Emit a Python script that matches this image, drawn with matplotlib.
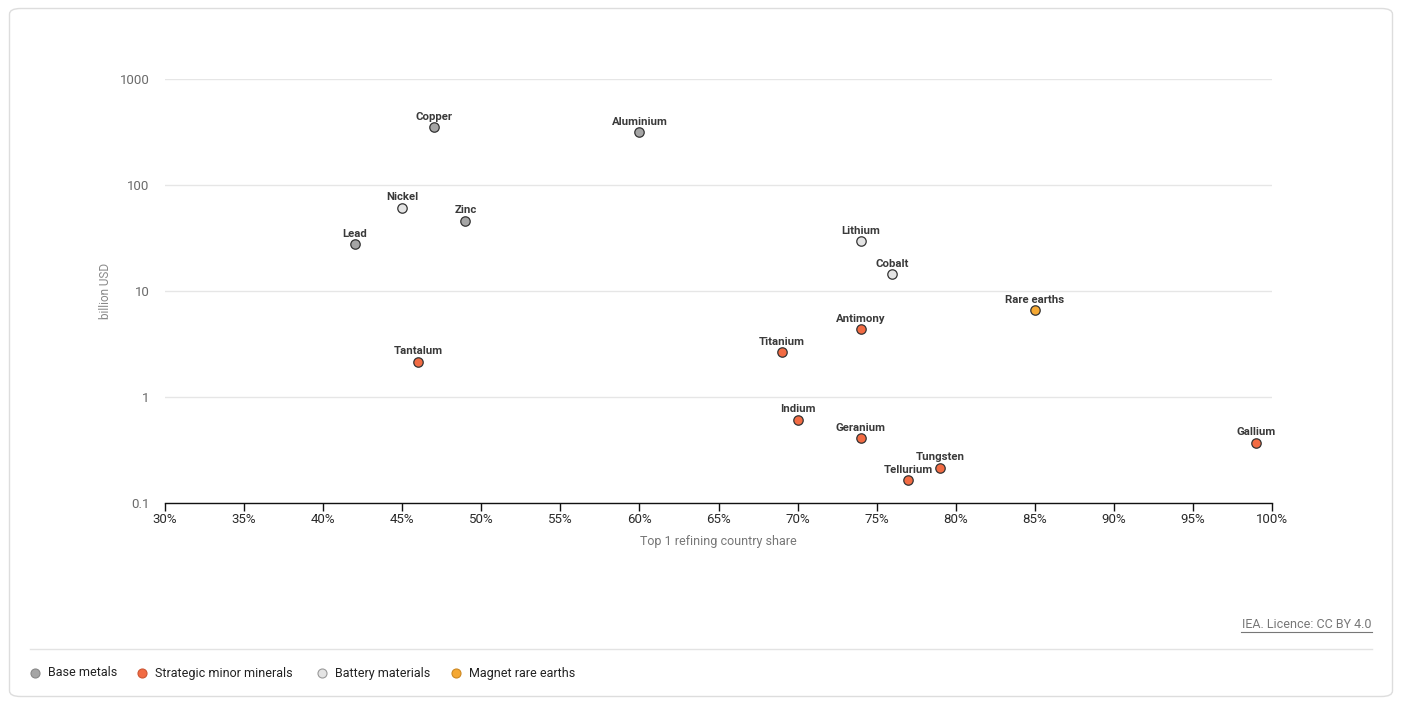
import matplotlib
matplotlib.use("Agg")
import matplotlib.pyplot as plt
from matplotlib.patches import FancyBboxPatch
from matplotlib.lines import Line2D
from matplotlib.ticker import FixedLocator, FuncFormatter, NullLocator

plt.rcParams['font.family'] = ['Roboto', 'DejaVu Sans']

# ---- data ----
minerals = ["Copper", "Aluminium", "Nickel", "Zinc", "Lead", "Tantalum",
            "Lithium", "Cobalt", "Rare earths", "Antimony", "Titanium",
            "Indium", "Geranium", "Gallium", "Tungsten", "Tellurium"]
share = [47, 60, 45, 49, 42, 46, 74, 76, 85, 74, 69, 70, 74, 99, 79, 77]
value = [350, 315, 61, 46, 27.5, 2.15, 29.5, 14.5, 6.6, 4.35, 2.65,
         0.61, 0.41, 0.37, 0.215, 0.165]
group = ["Base metals", "Base metals", "Battery materials", "Base metals",
         "Base metals", "Strategic minor minerals", "Battery materials",
         "Battery materials", "Magnet rare earths", "Strategic minor minerals",
         "Strategic minor minerals", "Strategic minor minerals",
         "Strategic minor minerals", "Strategic minor minerals",
         "Strategic minor minerals", "Strategic minor minerals"]
categories = ["Base metals", "Strategic minor minerals", "Battery materials",
              "Magnet rare earths"]
cat_colors = ["#a5a5a5", "#f26b43", "#e4e4e4", "#f5a833"]
x_ticks = [30, 35, 40, 45, 50, 55, 60, 65, 70, 75, 80, 85, 90, 95, 100]
y_ticks = [0.1, 1, 10, 100, 1000]
y_tick_labels = ["0.1", "1", "10", "100", "1000"]

W, H = 1402, 705
fig = plt.figure(figsize=(W / 100, H / 100), dpi=100)

# card background
card = FancyBboxPatch((9.5 / W, 8.5 / H), (1383 / W), (688 / H),
                      boxstyle="round,pad=0,rounding_size=0.008",
                      transform=fig.transFigure, facecolor="white",
                      edgecolor="#dddddd", linewidth=1.0, zorder=-10)
fig.patches.append(card)

ax = fig.add_axes([165 / W, 1 - 503 / H, (1272 - 165) / W, (503 - 79) / H])
ax.set_zorder(5)
ax.set_facecolor("none")
ax.set_yscale("log")
ax.set_xlim(30, 100)
ax.set_ylim(0.1, 1000)

color_map = dict(zip(categories, cat_colors))
for cat in categories:
    xs = [s for s, g in zip(share, group) if g == cat]
    ys = [v for v, g in zip(value, group) if g == cat]
    ax.scatter(xs, ys, s=46, c=color_map[cat], edgecolors="#333333",
               linewidths=0.9, zorder=3, clip_on=False)

for name, s, v in zip(minerals, share, value):
    ax.annotate(name, (s, v), xytext=(0, 5.3), textcoords="offset points",
                ha="center", va="baseline", fontsize=8.2, fontweight="bold",
                color="#3a3a3a", zorder=4)

ax.yaxis.set_major_locator(FixedLocator(y_ticks))
ax.yaxis.set_minor_locator(NullLocator())
ax.set_yticklabels(y_tick_labels)
ax.xaxis.set_major_locator(FixedLocator(x_ticks))
ax.xaxis.set_major_formatter(FuncFormatter(lambda v, p: f"{int(v)}%"))

ax.grid(axis="y", color="#e6e6e6", linewidth=1.0, zorder=0)
ax.set_axisbelow(True)
for sp in ["top", "right", "left"]:
    ax.spines[sp].set_visible(False)
ax.spines["bottom"].set_color("#111111")
ax.spines["bottom"].set_linewidth(1.0)
ax.tick_params(axis="y", length=0, pad=11, labelsize=9.5, labelcolor="#6a6a6a")
ax.tick_params(axis="x", length=6, width=1.0, color="#111111", pad=1.5,
               labelsize=9.5, labelcolor="#2a2a2a")

ax.set_xlabel("Top 1 refining country share", fontsize=9, color="#777777",
              labelpad=6)
ax.set_ylabel("billion USD", fontsize=8.5, color="#888888", labelpad=6)

# footer
fig.text(1372 / W, 1 - 625 / H, "IEA. Licence: CC BY 4.0", ha="right",
         va="center", fontsize=9, color="#777777")
fig.add_artist(Line2D([1241 / W, 1372 / W], [1 - 632 / H, 1 - 632 / H],
                      transform=fig.transFigure, color="#777777", linewidth=0.8))
fig.add_artist(Line2D([30 / W, 1372 / W], [1 - 649 / H, 1 - 649 / H],
                      transform=fig.transFigure, color="#e3e3e3", linewidth=1.0))

# legend
leg_x = [35, 142, 322, 456]
edge_cols = ["#888888", "#cc5533", "#999999", "#cc8822"]
for cx, cat, col, ec in zip(leg_x, categories, cat_colors, edge_cols):
    fig.add_artist(Line2D([cx / W], [1 - 673 / H], transform=fig.transFigure,
                          marker="o", markersize=6.5, markerfacecolor=col,
                          markeredgecolor=ec, markeredgewidth=0.8,
                          linestyle="none"))
    fig.text((cx + 13) / W, 1 - 673 / H, cat, ha="left", va="center",
             fontsize=9, color="#222222")

fig.savefig("out.png", dpi=100, facecolor="white")
